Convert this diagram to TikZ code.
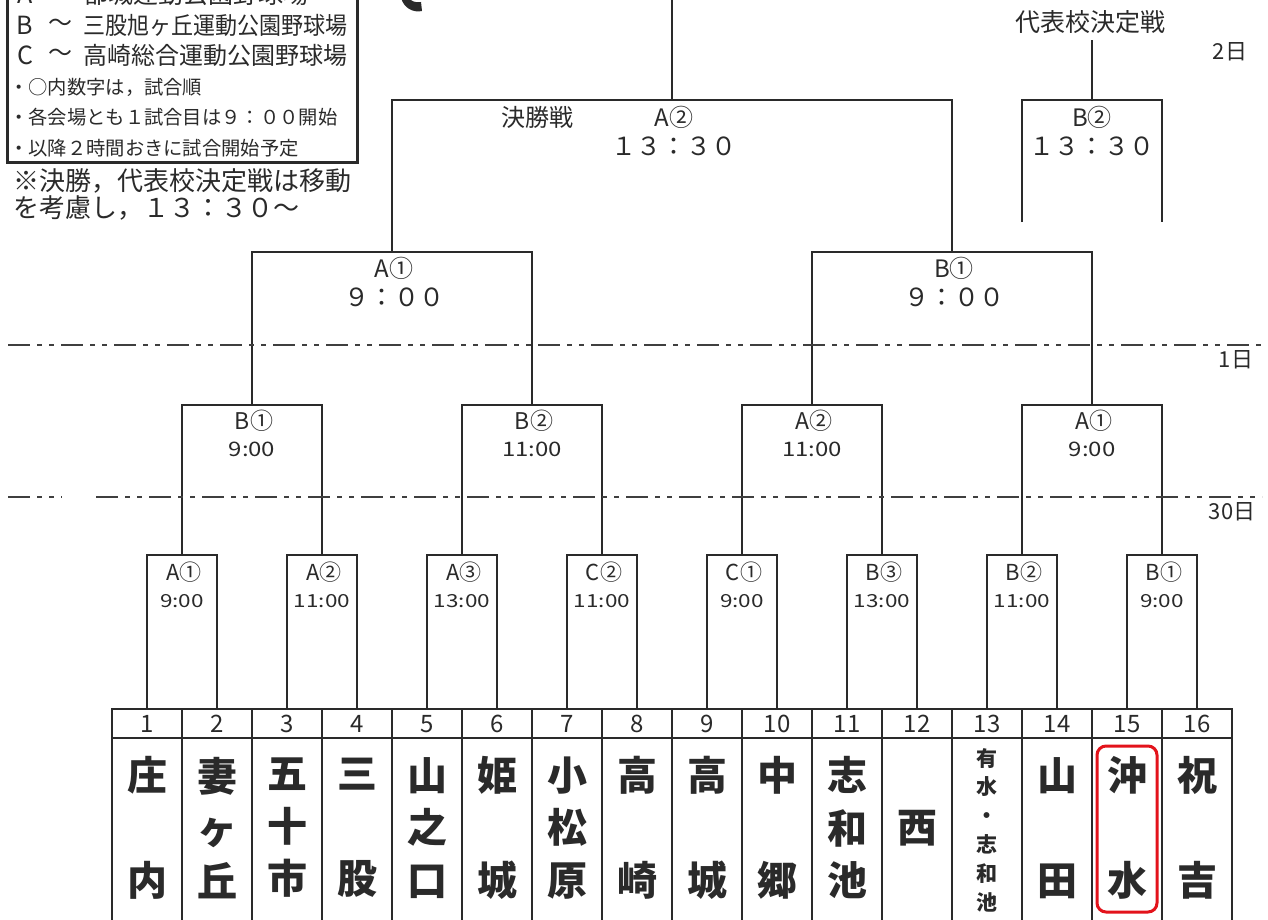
\documentclass[tikz,border=0pt]{standalone}
\usepackage{fontspec}
\setmainfont{Noto Sans CJK JP}
\usetikzlibrary{calc}
\definecolor{ink}{HTML}{2A2A2A}
\definecolor{hl}{HTML}{E3131B}
\begin{document}
\begin{tikzpicture}[x=1pt,y=-1pt,
  br/.style={draw=ink,line width=1.8pt},
  tbl/.style={draw=ink,line width=1.8pt},
  dayline/.style={draw=ink!90,line width=2.2pt,dash pattern=on 22pt off 7pt on 5pt off 7pt on 5pt off 7pt},
  lab/.style={text=ink,inner sep=0pt,anchor=center},
  ven1/.style={lab,font=\fontsize{22}{22}\selectfont},
  tim1/.style={lab,font=\fontsize{18}{18}\selectfont,xscale=1.25},
  ven2/.style={lab,font=\fontsize{23}{23}\selectfont},
  tim2/.style={lab,font=\fontsize{20}{20}\selectfont,xscale=1.2},
  ven3/.style={lab,font=\fontsize{24}{24}\selectfont},
  tim3/.style={lab,font=\fontsize{25}{25}\selectfont},
  num/.style={lab,font=\fontsize{24}{24}\selectfont},
  team/.style={lab,align=center,font=\fontsize{40}{52.5}\selectfont\bfseries},
  small/.style={lab,align=center,font=\fontsize{21}{28.8}\selectfont\bfseries},
  leg/.style={lab,anchor=west},
  day/.style={lab,font=\fontsize{22}{22}\selectfont}
]
\fill[white] (0,0) rectangle (1268,920);
\useasboundingbox (0,0) rectangle (1268,920);
\def\Lx{112}\def\Cw{70}
% ---------- table ----------
\draw[tbl] (\Lx,709) rectangle ({\Lx+16*\Cw},940);
\draw[tbl] (\Lx,738) -- ({\Lx+16*\Cw},738);
\foreach \i in {1,...,15}{
  \draw[tbl] ({\Lx+\Cw*\i},709) -- ({\Lx+\Cw*\i},940);
}
\foreach \i in {1,...,16}{
  \pgfmathsetmacro\cx{\Lx+\Cw*(\i-0.5)}
  \coordinate (t\i) at (\cx,709);
  \node[num] (n\i) at (\cx,724) {\i};
}
% team names
\foreach \i/\nm in {1/{庄\\[52.5pt]内},2/{妻\\ヶ\\丘},3/{五\\十\\市},4/{三\\[52.5pt]股},
  5/{山\\之\\口},6/{姫\\[52.5pt]城},7/{小\\松\\原},8/{高\\[52.5pt]崎},
  9/{高\\[52.5pt]城},10/{中\\[52.5pt]郷},11/{志\\和\\池},12/{西},
  14/{山\\[52.5pt]田},15/{沖\\[52.5pt]水},16/{祝\\[52.5pt]吉}}{
  \pgfmathsetmacro\cx{\Lx+\Cw*(\i-0.5)}
  \node[team] (nm\i) at (\cx,828) {\nm};
}
\node[small] (nm13) at ({\Lx+\Cw*12.5},830) {有\\水\\・\\志\\和\\池};
\node[draw=hl,line width=3pt,rounded corners=9pt,minimum width=60pt,minimum height=166pt,inner sep=0pt] (hlbox) at (1127,829) {};
% ---------- round 1 ----------
\foreach \k/\v/\t in {1/A①/9:00,2/A②/11:00,3/A③/13:00,4/C②/11:00,5/C①/9:00,6/B③/13:00,7/B②/11:00,8/B①/9:00}{
  \pgfmathtruncatemacro\a{2*\k-1}
  \pgfmathtruncatemacro\b{2*\k}
  \pgfmathsetmacro\mx{\Lx+\Cw*(2*\k-1)}
  \coordinate (p1-\k) at (\mx,555);
  \draw[br] (t\a) |- (p1-\k) -| (t\b);
  \node[ven1] (v1-\k) at (\mx+2,572) {\v};
  \node[tim1] (s1-\k) at (\mx,601) {\t};
}
% ---------- round 2 ----------
\foreach \j/\v/\t in {1/B①/9:00,2/B②/11:00,3/A②/11:00,4/A①/9:00}{
  \pgfmathtruncatemacro\a{2*\j-1}
  \pgfmathtruncatemacro\b{2*\j}
  \pgfmathsetmacro\mx{\Lx+\Cw*(4*\j-2)}
  \coordinate (p2-\j) at (\mx,405);
  \draw[br] (p1-\a) |- (p2-\j) -| (p1-\b);
  \node[ven2] (v2-\j) at (\mx+2,421) {\v};
  \node[tim2] (s2-\j) at (\mx,449) {\t};
}
% ---------- round 3 ----------
\foreach \l/\v in {1/A①,2/B①}{
  \pgfmathtruncatemacro\a{2*\l-1}
  \pgfmathtruncatemacro\b{2*\l}
  \pgfmathsetmacro\mx{\Lx+\Cw*(8*\l-4)}
  \coordinate (p3-\l) at (\mx,252);
  \draw[br] (p2-\a) |- (p3-\l) -| (p2-\b);
  \node[ven3] (v3-\l) at (\mx+2,268) {\v};
  \node[tim3] (s3-\l) at (\mx+2,297) {９：００};
}
% ---------- final ----------
\coordinate (p4) at ({\Lx+\Cw*8},100);
\coordinate (ptop) at ({\Lx+\Cw*8},-3);
\draw[br] (p3-1) |- (p4) -| (p3-2);
\draw[br] (p4) -- (ptop);
\node[ven3] (fin) at (537,117) {決勝戦};
\node[ven3] (v4) at ({\Lx+\Cw*8+2},117) {A②};
\node[tim3] (s4) at ({\Lx+\Cw*8+2},146) {１３：３０};
% ---------- representative playoff ----------
\coordinate (d1) at ({\Lx+\Cw*13},222);
\coordinate (d2) at ({\Lx+\Cw*15},222);
\coordinate (dtop) at ({\Lx+\Cw*14},100);
\coordinate (dhead) at ({\Lx+\Cw*14},40);
\draw[br] (d1) |- (dtop) -| (d2);
\draw[br] (dtop) -- (dhead);
\node[lab,font=\fontsize{25}{25}\selectfont] (dlab) at (1090,22) {代表校決定戦};
\node[ven3] (v5) at ({\Lx+\Cw*14},117) {B②};
\node[tim3] (s5) at ({\Lx+\Cw*14},146) {１３：３０};
% ---------- day lines ----------
\draw[dayline] (8,345) -- (1262,345);
\draw[dayline] (8,497) -- (62,497);
\draw[dayline] (96,497) -- (1262,497);
\node[day] (d2lab) at (1230,52) {2日};
\node[day] (d1lab) at (1236,360) {1日};
\node[day] (d30lab) at (1232,512) {30日};
% ---------- legend ----------
\draw[draw=ink,line width=3pt] (7,-20) rectangle (357,163);
\node[lab,font=\fontsize{25}{25}\selectfont] (la) at (25,-6) {A};
\node[lab,font=\fontsize{24}{24}\selectfont] (lat) at (60,-6) {～};
\node[leg,font=\fontsize{25}{25}\selectfont] (lan) at (83,-6) {都城運動公園野球場};
\node[lab,font=\fontsize{25}{25}\selectfont] (lb) at (25,25) {B};
\node[lab,font=\fontsize{24}{24}\selectfont] (lbt) at (60,25) {～};
\node[leg,font=\fontsize{24}{24}\selectfont,xscale=0.917] (lbn) at (83,25) {三股旭ヶ丘運動公園野球場};
\node[lab,font=\fontsize{25}{25}\selectfont] (lc) at (25,55) {C};
\node[lab,font=\fontsize{24}{24}\selectfont] (lct) at (60,55) {～};
\node[leg,font=\fontsize{24}{24}\selectfont] (lcn) at (83,55) {高崎総合運動公園野球場};
\node[leg,font=\fontsize{19.3}{19.3}\selectfont] (l4) at (9,87) {・○内数字は，試合順};
\node[leg,font=\fontsize{19.3}{19.3}\selectfont] (l5) at (9,117) {・各会場とも１試合目は９：００開始};
\node[leg,font=\fontsize{19.3}{19.3}\selectfont] (l6) at (9,148) {・以降２時間おきに試合開始予定};
\node[leg,font=\fontsize{26}{26}\selectfont] (l7) at (13,181) {※決勝，代表校決定戦は移動};
\node[leg,font=\fontsize{26}{26}\selectfont] (l8) at (13,208) {を考慮し，１３：３０～};
% title fragment at top edge
\fill[ink] (401,-2) .. controls (404,8) and (413,13) .. (422,11) -- (421,2) .. controls (415,3) and (411,1) .. (409,-2) -- cycle;
\end{tikzpicture}
\end{document}
